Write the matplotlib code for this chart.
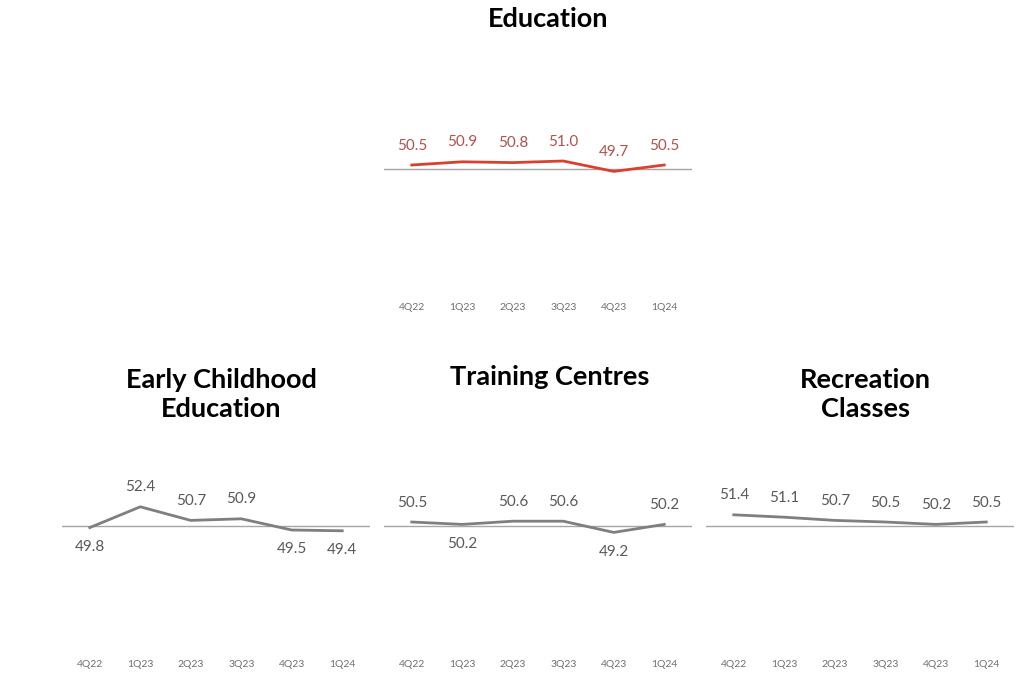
import matplotlib
matplotlib.use("Agg")
import matplotlib.pyplot as plt

quarters = ["4Q22", "1Q23", "2Q23", "3Q23", "4Q23", "1Q24"]

education = [50.5, 50.9, 50.8, 51.0, 49.7, 50.5]
early_childhood = [49.8, 52.4, 50.7, 50.9, 49.5, 49.4]
training = [50.5, 50.2, 50.6, 50.6, 49.2, 50.2]
recreation = [51.4, 51.1, 50.7, 50.5, 50.2, 50.5]

# label above (1) or below (-1) the point
edu_pos = [1, 1, 1, 1, 1, 1]
early_pos = [-1, 1, 1, 1, -1, -1]
train_pos = [1, -1, 1, 1, -1, 1]
rec_pos = [1, 1, 1, 1, 1, 1]

W, H = 1024, 684
fig = plt.figure(figsize=(W / 100, H / 100), dpi=100)
plt.rcParams['font.family'] = ['Lato', 'DejaVu Sans']


def panel(left_px, base_px, vals, pos, line_c, text_c):
    # axes 308 px wide, ylim 34..66 mapped to 256 px, 50 at base_px
    w, h = 308, 256
    top = base_px - h / 2
    ax = fig.add_axes([left_px / W, 1 - (top + h) / H, w / W, h / H])
    x = range(len(vals))
    ax.axhline(50, color="#a6a6a6", lw=1, zorder=1)
    ax.plot(x, vals, color=line_c, lw=2, zorder=2)
    for xi, v, p in zip(x, vals, pos):
        ax.annotate(f"{v:.1f}", (xi, v), xytext=(0, 14 * p), textcoords="offset points",
                    ha="center", va="center", fontsize=11, color=text_c)
    ax.set_xlim(-0.55, 5.55)
    ax.set_ylim(34, 66)
    ax.set_xticks(list(x))
    ax.set_xticklabels(quarters, fontsize=7.5, color="#6f6f6f")
    ax.tick_params(axis="x", length=0, pad=4)
    ax.set_yticks([])
    for s in ax.spines.values():
        s.set_visible(False)
    ax.patch.set_alpha(0)
    return ax


panel(384, 169, education, edu_pos, "#d9412e", "#b5504a")
panel(62, 526, early_childhood, early_pos, "#7f7f7f", "#595959")
panel(384, 526, training, train_pos, "#7f7f7f", "#595959")
panel(706, 526, recreation, rec_pos, "#7f7f7f", "#595959")

title_kw = dict(ha="center", va="center", fontsize=19.5, fontweight="bold", color="black",
                linespacing=1.25)
fig.text(548 / W, 1 - 19 / H, "Education", **title_kw)
fig.text(221 / W, 1 - 394 / H, "Early Childhood\nEducation", **title_kw)
fig.text(550 / W, 1 - 377 / H, "Training Centres", **title_kw)
fig.text(865 / W, 1 - 394 / H, "Recreation\nClasses", **title_kw)

fig.savefig("out.png", dpi=100, facecolor="white")
